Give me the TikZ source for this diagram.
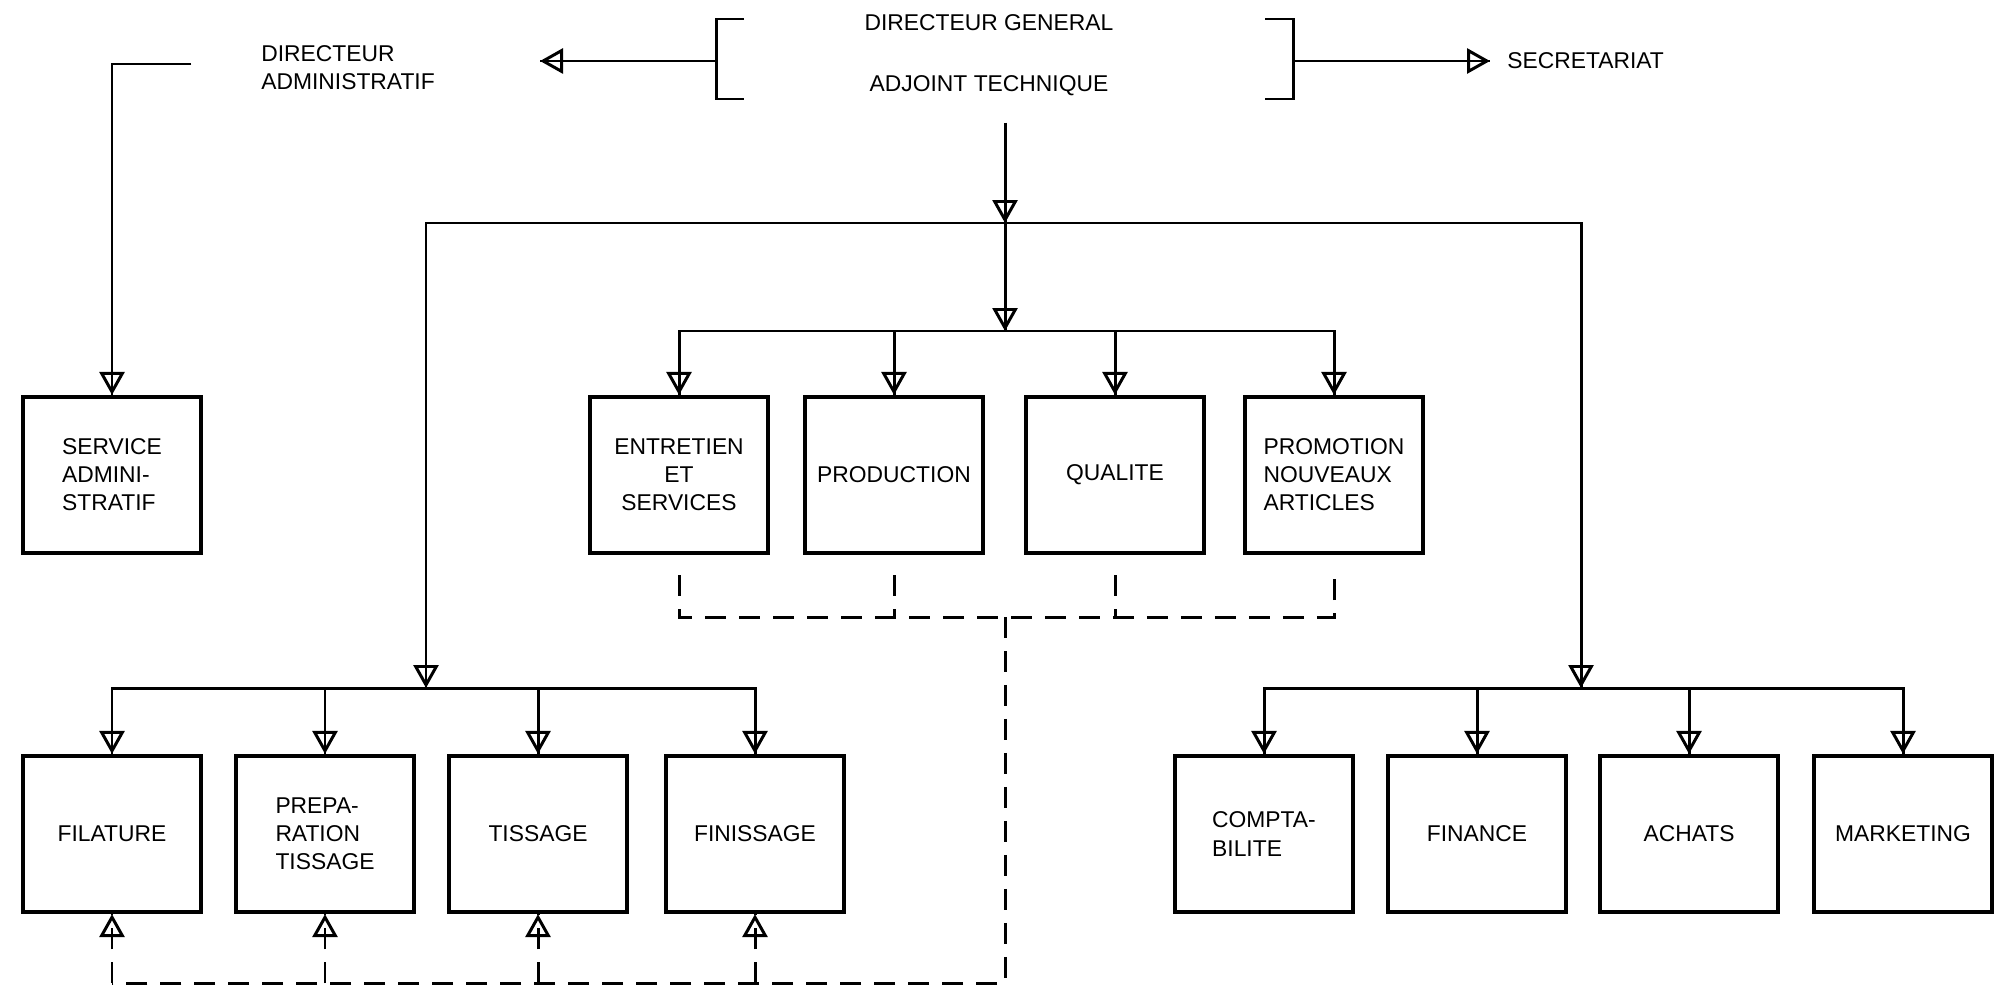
\documentclass[tikz,border=0pt]{standalone}
\usepackage{fontspec}
\setmainfont{Liberation Sans}
\usetikzlibrary{arrows.meta}
\tikzset{
    unit/.style={draw, line width=2.4pt, minimum width=3.56cm, minimum height=3.12cm, inner sep=2pt},
    link/.style={line width=1.7pt},
    arw/.style={link, postaction={draw, -{Triangle[open, length=0.46cm, width=0.5cm]}}},
    dsh/.style={line width=1.7pt, dash pattern=on 0.42cm off 0.26cm},
    darw/.style={dsh, postaction={draw, -{Triangle[open, length=0.46cm, width=0.5cm]}}}
}

\begin{document}
\begin{tikzpicture}[x=0.02cm, y=-0.02cm, font=\fontsize{13}{16}\selectfont]
		\useasboundingbox (0,0) rectangle (1994,990);

		% direction
		\node[inner sep=0pt] (dg) at (989,23) {DIRECTEUR GENERAL};
		\node[inner sep=0pt] (adj) at (989,86) {ADJOINT TECHNIQUE};
		\node[inner sep=0pt, anchor=west, align=left] (dadm) at (261,68) {DIRECTEUR\\ADMINISTRATIF};
		\node[inner sep=0pt, anchor=west] (sec) at (1507,61) {SECRETARIAT};
		\draw[link] (744,19) -| (716,99) -- (744,99);
		\draw[link] (1265,19) -| (1293,99) -- (1265,99);
		\coordinate (bl) at (716,61);
		\coordinate (br) at (1293,61);
		\coordinate (al) at (540,61);
		\coordinate (ar) at (1490,61);
		\coordinate (adm) at (191,64);
		\draw[arw] (bl) -- (al);
		\draw[arw] (br) -- (ar);

		% services
		\node[unit, align=left] (svc) at (112,475) {SERVICE\\ADMINI-\\STRATIF};
		\node[unit, align=center] (ent) at (679,475) {ENTRETIEN\\ET\\SERVICES};
		\node[unit] (prod) at (894,475) {PRODUCTION};
		\node[unit] (qual) at (1115,475) {QUALITE};
		\node[unit, align=left] (promo) at (1334,475) {PROMOTION\\NOUVEAUX\\ARTICLES};

		% production
		\node[unit] (fil) at (112,834) {FILATURE};
		\node[unit, align=left] (prep) at (325,834) {PREPA-\\RATION\\TISSAGE};
		\node[unit] (tiss) at (538,834) {TISSAGE};
		\node[unit] (fin) at (755,834) {FINISSAGE};

		% gestion
		\node[unit, align=left] (compta) at (1264,834) {COMPTA-\\BILITE};
		\node[unit] (finan) at (1477,834) {FINANCE};
		\node[unit] (ach) at (1689,834) {ACHATS};
		\node[unit] (mkt) at (1903,834) {MARKETING};

		% liaisons
		\coordinate (top) at (1005,123);
		\coordinate (j1) at (1005,223);
		\coordinate (j2) at (1005,331);
		\coordinate (jl) at (426,688);
		\coordinate (jr) at (1581,688);
		\draw[arw] (adm) -| (svc.north);
		\draw[arw] (top) -- (j1);
		\draw[arw] (j1) -- (j2);
		\draw[arw] (j1) -| (jl);
		\draw[arw] (j1) -| (jr);
		\foreach \n in {ent,prod,qual,promo}
			\draw[arw] (j2) -| (\n.north);
		\foreach \n in {fil,prep,tiss,fin}
			\draw[arw] (jl) -| (\n.north);
		\foreach \n in {compta,finan,ach,mkt}
			\draw[arw] (jr) -| (\n.north);

		% pointilles
		\coordinate (dq) at (1005,617);
		\coordinate (dp) at (1005,983);
		\draw[dsh] ([yshift=-0.4cm]ent.south) |- (dq) -| ([yshift=-0.4cm]promo.south);
		\foreach \n in {prod,qual}
			\draw[dsh] ([yshift=-0.4cm]\n.south) -- (\n.south |- dq);
		\draw[dsh] (dq) -- (dp) -- (fil.south |- dp);
		\foreach \n in {fil,prep,tiss,fin}
			\draw[darw] (\n.south |- dp) -- (\n.south);
	\end{tikzpicture}
\end{document}
